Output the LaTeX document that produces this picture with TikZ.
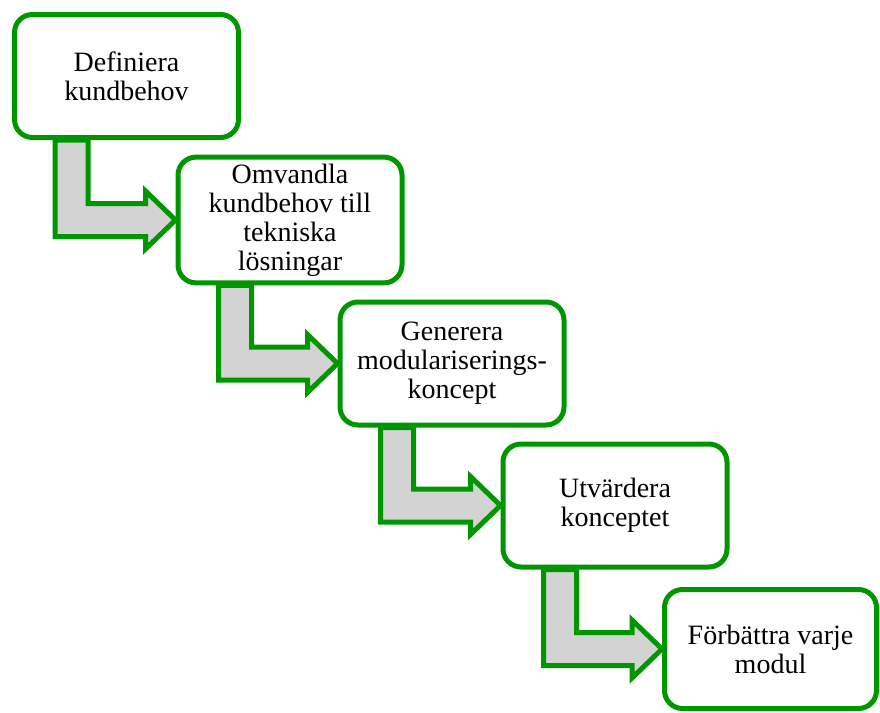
\documentclass[tikz,border=0pt]{standalone}
\usepackage{fontspec}
\setmainfont{Liberation Serif}
\usepackage{xcolor}
\usepackage{tikz}
\usetikzlibrary{calc}
\usetikzlibrary{backgrounds}

\definecolor{stepgreen}{RGB}{0,150,0}
\definecolor{arrowgray}{RGB}{211,211,211}

\begin{document}
\begin{tikzpicture}
  [
    x=0.5pt, y=-0.5pt,
    stepbox/.style={
       draw=stepgreen,
       fill=white,
       line width=2.5pt,
       rounded corners=9pt,
       minimum width=112pt,
       minimum height=61.5pt,
       align=center,
       font=\fontsize{14}{14.5}\selectfont
    },
    bentarrow/.style={
       draw=stepgreen,
       fill=arrowgray,
       line width=2.5pt
    }
  ]
  \useasboundingbox (0,0) rectangle (880,713);

  \node (b1) at (126.5, 76.0) [stepbox] {Definiera\\kundbehov};
  \node (b2) at (290.0,220.0) [stepbox] {Omvandla\\kundbehov till\\tekniska\\lösningar};
  \node (b3) at (452.0,363.5) [stepbox] {Generera\\modulariserings-\\koncept};
  \node (b4) at (615.0,505.5) [stepbox] {Utvärdera\\konceptet};
  \node (b5) at (770.5,649.0) [stepbox, minimum width=106pt, minimum height=59.5pt]
        {Förbättra varje\\modul};

  % bent arrows behind the boxes
  \begin{scope}[on background layer]
    \foreach \from/\to in {b1/b2, b2/b3, b3/b4, b4/b5}
      \draw [bentarrow] let \p1=(\from.south west), \p2=(\to.west) in
        (\x1+21.5pt,\y1) -- (\x1+21.5pt,\y2-8.25pt) -- (\x2-15pt,\y2-8.25pt)
        -- (\x2-15pt,\y2-14.5pt) -- (\p2) -- (\x2-15pt,\y2+14.5pt)
        -- (\x2-15pt,\y2+8.25pt) -- (\x1+38pt,\y2+8.25pt) -- (\x1+38pt,\y1) -- cycle;
  \end{scope}
\end{tikzpicture}
\end{document}
